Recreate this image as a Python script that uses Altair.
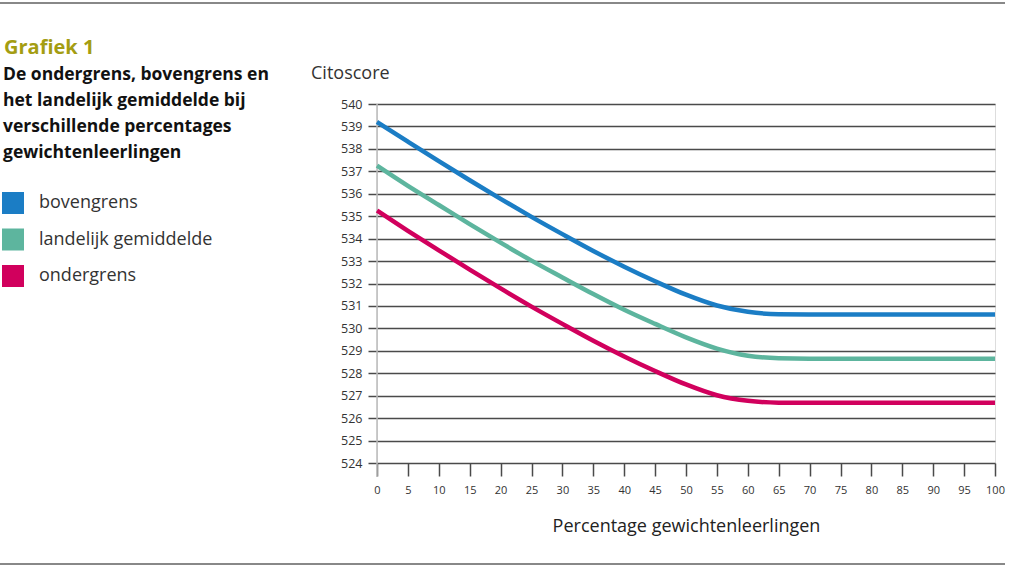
import altair as alt
import pandas as pd

# ---- data ----
pct = list(range(0, 101, 5))
bovengrens = [539.2, 538.32, 537.45, 536.6, 535.77, 534.97, 534.2, 533.45, 532.75, 532.1,
              531.5, 531.02, 530.74, 530.63, 530.62, 530.62, 530.62, 530.62, 530.62, 530.62, 530.62]
landelijk = [537.25, 536.35, 535.5, 534.65, 533.82, 533.02, 532.27, 531.53, 530.83, 530.2,
             529.6, 529.1, 528.78, 528.67, 528.65, 528.65, 528.65, 528.65, 528.65, 528.65, 528.65]
ondergrens = [535.25, 534.35, 533.48, 532.62, 531.78, 530.97, 530.2, 529.45, 528.75, 528.1,
              527.5, 527.02, 526.77, 526.69, 526.68, 526.68, 526.68, 526.68, 526.68, 526.68, 526.68]

series_names = ["bovengrens", "landelijk gemiddelde", "ondergrens"]
series_colors = ["#1b7dc5", "#5db59e", "#d1005d"]
y_ticks = list(range(524, 541))
x_ticks = list(range(0, 101, 5))

title_text = "Grafiek 1"
subtitle_lines = ["De ondergrens, bovengrens en", "het landelijk gemiddelde bij",
                  "verschillende percentages", "gewichtenleerlingen"]
y_title = "Citoscore"
x_title = "Percentage gewichtenleerlingen"

rows = []
for name, vals in zip(series_names, [bovengrens, landelijk, ondergrens]):
    for p, v in zip(pct, vals):
        rows.append({"pct": p, "score": v, "reeks": name})
df = pd.DataFrame(rows)

FONT = "Open Sans"
GRID = "#4a4a4a"

x_enc = alt.X("pct:Q", scale=alt.Scale(domain=[0, 100], nice=False),
              axis=alt.Axis(values=x_ticks, title=x_title, grid=False, domain=False,
                            tickSize=13, tickColor=GRID, tickWidth=1.5,
                            labelFontSize=11, labelColor="#333", labelPadding=8, labelFlush=False,
                            titleFontSize=18, titleFontWeight="normal", titleColor="#222",
                            titlePadding=22, titleFont=FONT, labelFont=FONT))
y_enc = alt.Y("score:Q", scale=alt.Scale(domain=[524, 540], nice=False, zero=False),
              axis=alt.Axis(values=y_ticks, title=None, domain=False, grid=True,
                            gridColor=GRID, gridWidth=1.5, tickColor=GRID, tickWidth=1.5,
                            tickSize=9, labelPadding=6, labelFontSize=12.5, labelColor="#333",
                            labelFont=FONT))
color_scale = alt.Scale(domain=series_names, range=series_colors)

lines = alt.Chart(df).mark_line(interpolate="monotone", strokeWidth=4.5).encode(
    x=x_enc, y=y_enc,
    color=alt.Color("reeks:N", scale=color_scale, legend=None),
)

# legend carrier: filled squares, no rows drawn (filter leaves nothing)
legend_layer = alt.Chart(df).transform_filter("datum.pct < 0").mark_square(
    filled=True, opacity=1).encode(
    x=x_enc, y=y_enc,
    color=alt.Color("reeks:N", scale=color_scale,
                    legend=alt.Legend(title=None, orient="none", legendX=-375, legendY=88,
                                      symbolType="square", symbolSize=484, symbolStrokeWidth=0,
                                      symbolOpacity=1,
                                      labelFontSize=18, labelColor="#333", labelFont=FONT,
                                      labelOffset=15, labelLimit=400, rowPadding=14.5)),
)

one = pd.DataFrame({"k": [0]})

vline = alt.Chart(one).mark_rule(color="#bbbbbb", strokeWidth=1.5).encode(
    x=alt.value(0), y=alt.value(0), y2=alt.value(373))
top_rule = alt.Chart(one).mark_rule(color="#888888", strokeWidth=2).encode(
    x=alt.value(-377), x2=alt.value(628), y=alt.value(-101))
bottom_rule = alt.Chart(one).mark_rule(color="#888888", strokeWidth=2).encode(
    x=alt.value(-377), x2=alt.value(628), y=alt.value(460))

title = alt.Chart(one).mark_text(align="left", baseline="alphabetic", font=FONT,
                                 fontSize=20, fontWeight="bold", color="#a49d12").encode(
    x=alt.value(-373), y=alt.value(-50), text=alt.value(title_text))
subtitle = alt.Chart(one).mark_text(align="left", baseline="alphabetic", font=FONT,
                                    fontSize=17.5, fontWeight="bold", color="#111111",
                                    lineHeight=26).encode(
    x=alt.value(-374), y=alt.value(-24), text=alt.value(subtitle_lines))
ytitle = alt.Chart(one).mark_text(align="left", baseline="alphabetic", font=FONT,
                                  fontSize=18, color="#333333").encode(
    x=alt.value(-66), y=alt.value(-25), text=alt.value(y_title))

chart = alt.layer(vline, lines, legend_layer, top_rule, bottom_rule, title, subtitle, ytitle).resolve_legend(
    color="independent"
).properties(
    width=618, height=359,
    autosize=alt.AutoSizeParams(type="none"),
    padding={"left": 377, "top": 104, "right": 15, "bottom": 105},
).configure_view(stroke=None).configure(font=FONT)

chart.save("out.html", embed_options={"renderer": "svg", "actions": False})
